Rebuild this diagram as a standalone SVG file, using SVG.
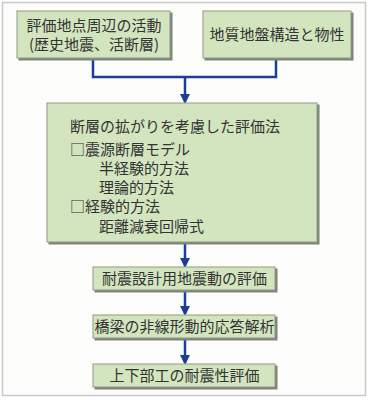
<svg xmlns="http://www.w3.org/2000/svg" width="370" height="400" viewBox="0 0 370 400">
<defs>
<style>
.box{fill:#d3e5bf;stroke:#8f9a88;stroke-width:1}
.sh{fill:#7d847a}
.t{font-family:"Noto Sans CJK JP","Noto Sans CJK SC",sans-serif;font-size:15px;fill:#333}
.c{text-anchor:middle}
.ln{fill:none;stroke:#1c3f95;stroke-width:2.5}
</style>
<marker id="ah" markerWidth="10" markerHeight="10" refX="8" refY="5" orient="auto" markerUnits="userSpaceOnUse">
<path d="M0,0 L10,5 L0,10 Z" fill="#1c3f95"/>
</marker>
</defs>
<rect x="0" y="0" width="370" height="400" fill="#fff"/>
<rect x="2.5" y="2.5" width="363" height="393" fill="#fdfdfb" stroke="#c8c8c8" stroke-width="1.5"/>

<g id="connectors">
<path class="ln" d="M93,59 V77 H276 V59"/>
<path class="ln" d="M185,77 V102" marker-end="url(#ah)"/>
<path class="ln" d="M185,243 V266" marker-end="url(#ah)"/>
<path class="ln" d="M185,291 V314" marker-end="url(#ah)"/>
<path class="ln" d="M185,339 V363" marker-end="url(#ah)"/>
</g>

<g id="n1">
<rect class="sh" x="18.5" y="12.5" width="154" height="48"/>
<rect class="box" x="17" y="11" width="153" height="47"/>
<text class="t c" x="94" y="31">評価地点周辺の活動</text>
<text class="t c" x="94" y="50">(歴史地震、活断層)</text>
</g>

<g id="n2">
<rect class="sh" x="204.5" y="12.5" width="149" height="48"/>
<rect class="box" x="203" y="11" width="148" height="47"/>
<text class="t c" x="277" y="40">地質地盤構造と物性</text>
</g>

<g id="n3">
<rect class="sh" x="48.5" y="104.5" width="271" height="140"/>
<rect class="box" x="47" y="103" width="270" height="139"/>
<text class="t" x="70" y="132">断層の拡がりを考慮した評価法</text>
<text class="t" x="70" y="155">□震源断層モデル</text>
<text class="t" x="99" y="174">半経験的方法</text>
<text class="t" x="99" y="193">理論的方法</text>
<text class="t" x="70" y="212">□経験的方法</text>
<text class="t" x="99" y="232">距離減衰回帰式</text>
</g>

<g id="n4">
<rect class="sh" x="94.5" y="268.5" width="183" height="24"/>
<rect class="box" x="93" y="267" width="182" height="23"/>
<text class="t c" x="184.5" y="284">耐震設計用地震動の評価</text>
</g>

<g id="n5">
<rect class="sh" x="94.5" y="316.5" width="183" height="24"/>
<rect class="box" x="93" y="315" width="182" height="23"/>
<text class="t c" x="184.5" y="332">橋梁の非線形動的応答解析</text>
</g>

<g id="n6">
<rect class="sh" x="94.5" y="365.5" width="183" height="24"/>
<rect class="box" x="93" y="364" width="182" height="23"/>
<text class="t c" x="184.5" y="381">上下部工の耐震性評価</text>
</g>
</svg>
